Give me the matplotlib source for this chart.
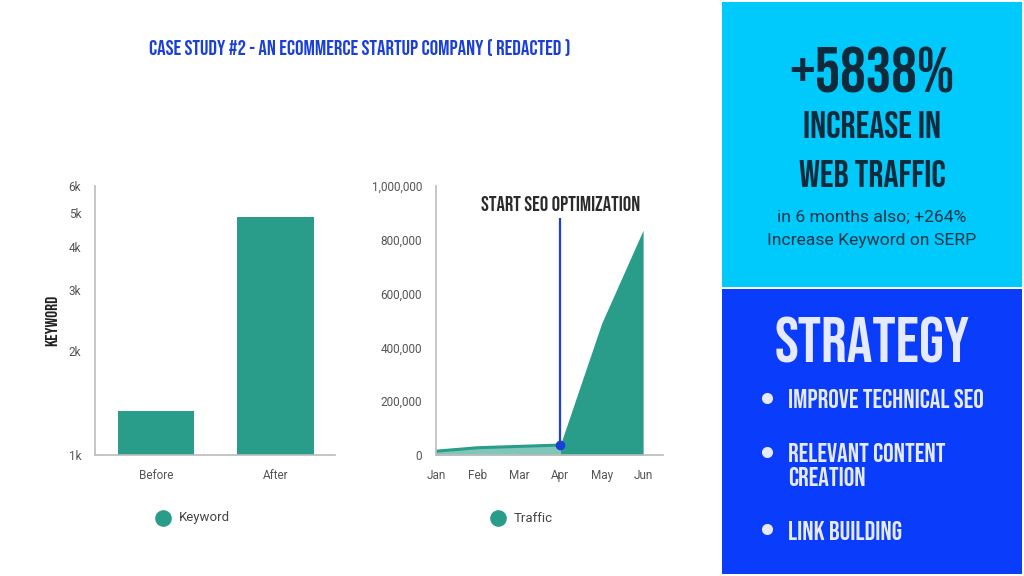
import matplotlib
matplotlib.use("Agg")
import matplotlib.pyplot as plt
import matplotlib.ticker as mticker
from matplotlib.patches import Rectangle
from matplotlib.lines import Line2D

# data
kw_labels = ["Before", "After"]
kw_values = [1340, 4880]
kw_ticks = [1000, 2000, 3000, 4000, 5000, 6000]
kw_ticklabels = ["1k", "2k", "3k", "4k", "5k", "6k"]

months = ["Jan", "Feb", "Mar", "Apr", "May", "Jun"]
traffic = [14100, 27000, 32000, 37000, 490000, 836000]
seo_start = 3  # index of Apr

teal = "#2a9d8a"
teal_light = "#80c7ba"
blue = "#1a40d8"
cyan_bg = "#00c9fc"
blue_bg = "#0a3cfb"
dark = "#0f2a3a"
gray = "#555555"
spine = "#bbbbbb"

BEBAS = ["Bebas Neue", "DejaVu Sans"]
ROBOTO = ["Roboto", "DejaVu Sans"]

W, H = 1024, 576
fig = plt.figure(figsize=(W / 100, H / 100), dpi=100)
fig.patch.set_facecolor("white")

def fx(px):
    return px / W

def fy(py):
    return 1 - py / H

def dot(px, py, size, color):
    fig.add_artist(Line2D([fx(px)], [fy(py)], marker="o", ms=size, color=color,
                          mec="none", transform=fig.transFigure))

# ---- keyword bar chart (log scale) ----
ax1 = fig.add_axes([fx(95), fy(455), fx(240), 269 / H])
ax1.bar(range(len(kw_values)), kw_values, width=0.64, color=teal)
ax1.set_yscale("log")
ax1.set_ylim(1000, 6000)
ax1.set_xlim(-0.51, 1.5)
ax1.yaxis.set_major_locator(mticker.FixedLocator(kw_ticks))
ax1.yaxis.set_major_formatter(mticker.FixedFormatter(kw_ticklabels))
ax1.yaxis.set_minor_locator(mticker.NullLocator())
ax1.set_xticks(range(len(kw_labels)))
ax1.set_xticklabels(kw_labels)
ax1.set_ylabel("KEYWORD", family=BEBAS, fontsize=12.5, color="#222222", labelpad=8)

# ---- traffic area chart ----
ax2 = fig.add_axes([fx(436), fy(455), fx(227), 269 / H])
x = list(range(len(months)))
ax2.fill_between(x[:seo_start + 1], traffic[:seo_start + 1], color=teal_light, lw=0)
ax2.fill_between(x[seo_start:], traffic[seo_start:], color=teal, lw=0)
ax2.plot(x[:seo_start + 1], traffic[:seo_start + 1], color=teal, lw=2.2)
ax2.set_xlim(0, 5.48)
ax2.set_ylim(0, 1000000)
ax2.set_yticks([0, 200000, 400000, 600000, 800000, 1000000])
ax2.yaxis.set_major_formatter(mticker.FuncFormatter(lambda v, p: f"{int(v):,}"))
ax2.set_xticks(x)
ax2.set_xticklabels(months)
ax2.vlines(seo_start, traffic[seo_start], 880000, color=blue, lw=1.6, zorder=4)
ax2.plot([seo_start], [traffic[seo_start]], "o", color=blue, ms=6, zorder=5)
ax2.text(seo_start, 935000, "START SEO OPTIMIZATION", family=BEBAS, fontsize=15,
         color="#2b2b2b", ha="center", va="center")

for ax in (ax1, ax2):
    for s in ("top", "right"):
        ax.spines[s].set_visible(False)
    for s in ("left", "bottom"):
        ax.spines[s].set_color(spine)
        ax.spines[s].set_linewidth(1.2)
    ax.tick_params(length=0, labelsize=8.5, labelcolor=gray, pad=10)
    ax.tick_params(axis="x", pad=10)
    for lab in ax.get_xticklabels() + ax.get_yticklabels():
        lab.set_family(ROBOTO)
    ax.set_facecolor("none")

# legends
for cx, label in [(163, "Keyword"), (498, "Traffic")]:
    dot(cx, 518, 12, teal)
    fig.text(fx(cx + 16), fy(518), label, family=ROBOTO, fontsize=9.5,
             color="#444444", va="center", ha="left")

# title
fig.text(fx(360), fy(47), "CASE STUDY #2 - AN ECOMMERCE STARTUP COMPANY ( REDACTED )",
         family=BEBAS, fontsize=15.2, color=blue, ha="center", va="center")

# ---- right panels ----
fig.patches.append(Rectangle((fx(722), fy(287)), fx(300), 285 / H,
                             transform=fig.transFigure, color=cyan_bg, lw=0))
fig.patches.append(Rectangle((fx(722), fy(574)), fx(300), 285 / H,
                             transform=fig.transFigure, color=blue_bg, lw=0))

cx = fx(872)
fig.text(cx, fy(70), "+5838%", family=BEBAS, fontsize=46, color=dark,
         ha="center", va="center")
fig.text(cx, fy(125), "INCREASE IN", family=BEBAS, fontsize=27, color=dark,
         ha="center", va="center")
fig.text(cx, fy(174), "WEB TRAFFIC", family=BEBAS, fontsize=27, color=dark,
         ha="center", va="center")
fig.text(cx, fy(217), "in 6 months also; +264%", family=ROBOTO, fontsize=12.6,
         color="#123548", ha="center", va="center")
fig.text(cx, fy(240), "Increase Keyword on SERP", family=ROBOTO, fontsize=12.6,
         color="#123548", ha="center", va="center")

fig.text(cx, fy(340), "STRATEGY", family=BEBAS, fontsize=46, color="#e6eaff",
         ha="center", va="center")
items = [(399, "IMPROVE TECHNICAL SEO", True), (453, "RELEVANT CONTENT", True),
         (476, "CREATION", False), (530, "LINK BUILDING", True)]
for py, txt, has_dot in items:
    if has_dot:
        dot(767, py - 1, 8, "#e6eaff")
    fig.text(fx(788), fy(py), txt, family=BEBAS, fontsize=19, color="#e6eaff",
             ha="left", va="center")

fig.savefig("out.png", dpi=100)
